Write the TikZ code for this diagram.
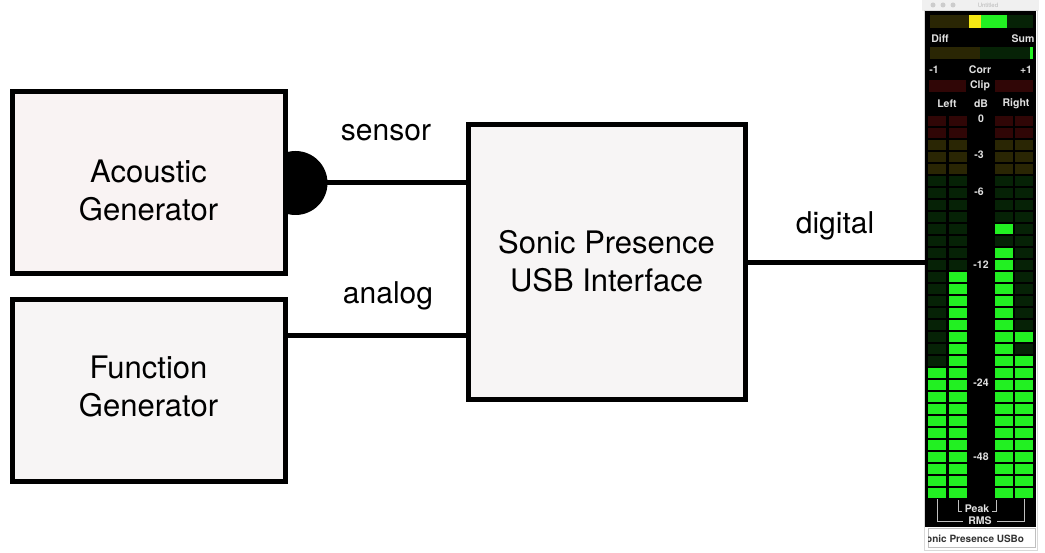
\documentclass[tikz,border=0pt]{standalone}
\usepackage{fontspec}
\setmainfont{TeX Gyre Heros}
\usetikzlibrary{backgrounds}

\definecolor{boxpink}{RGB}{249,243,243}
\definecolor{boxgray}{RGB}{247,245,245}
\definecolor{litgreen}{RGB}{34,240,34}
\definecolor{dimgreen}{RGB}{6,34,6}
\definecolor{dimred}{RGB}{48,6,6}
\definecolor{dimolive}{RGB}{42,38,4}
\definecolor{meteryellow}{RGB}{245,232,20}

\tikzset{
  block/.style={draw, line width=5pt, inner sep=0pt},
  blocktext/.style={align=center, inner sep=0pt, font=\fontsize{31}{38}\selectfont},
  wire/.style={line width=5pt},
  wirelabel/.style={anchor=base, font=\fontsize{30}{36}\selectfont},
  metertext/.style={text=white!88!black, inner sep=0pt, font=\bfseries\fontsize{10.5}{13}\selectfont},
  bracket/.style={draw=white!75!black, line width=1pt},
}

\begin{document}
\begin{tikzpicture}[x=1pt, y=-1pt]
    \useasboundingbox (0,0) rectangle (1045,553);

    % Acoustic generator
    \node[block, fill=boxpink, minimum width=273pt, minimum height=182pt] (acoustic) at (148.5,183) {};
    \node[blocktext] (acoustictext) at (148.5,190) {Acoustic\\Generator};

    % Function generator
    \node[block, fill=boxgray, minimum width=273pt, minimum height=181pt] (function) at (148.5,390.5) {};
    \node[blocktext] (functiontext) at (148.5,386) {Function\\Generator};

    % Sonic Presence interface
    \node[block, fill=boxgray, minimum width=277pt, minimum height=275pt] (sonic) at (606.5,262.5) {};
    \node[blocktext] (sonictext) at (606.5,261.5) {Sonic Presence\\USB Interface};

    % sensor (half hidden behind the box)
    \begin{pgfonlayer}{background}
        \fill ([xshift=8pt]acoustic.east) circle (32pt);
    \end{pgfonlayer}
    \draw[wire] (acoustic.east) -- (acoustic.east -| sonic.west);
    \node[wirelabel] (sensorlabel) at (386,141) {sensor};

    % analog
    \draw[wire] ([yshift=54.5pt]function.east) -- ([yshift=54.5pt]function.east -| sonic.west);
    \node[wirelabel] (analoglabel) at (388,304) {analog};

    % meter window
    \fill[gray!12] (922,0) rectangle (1039,11);
    \foreach \bx in {933,943,953}
        \fill[gray!40] (\bx,5) circle (2.5pt);
    \node[text=gray!55, inner sep=0pt, font=\fontsize{6}{7}\selectfont] (title) at (988,5) {Untitled};
    \draw[gray!30, line width=1pt] (924,11) rectangle (1037,550);
    \node[fill=black, inner sep=0pt, minimum width=111pt, minimum height=516pt] (meter) at (980.5,269) {};

    % digital
    \draw[wire] (sonic.east) -- (sonic.east -| meter.west);
    \node[wirelabel] (digitallabel) at (835,234) {digital};

    % Diff / Sum bar
    \fill[dimolive] (930,15) rectangle (969,28);
    \fill[meteryellow] (969,15) rectangle (981,28);
    \fill[litgreen] (981,15) rectangle (1007,28);
    \fill[dimgreen] (1007,15) rectangle (1033,28);
    \node[metertext] (diff) at (940,39) {Diff};
    \node[metertext] (sum) at (1023,39) {Sum};

    % correlation bar
    \fill[dimolive] (930,47) rectangle (980,59);
    \fill[dimgreen] (980,47) rectangle (1030,59);
    \fill[litgreen] (1030,47) rectangle (1033,59);
    \node[metertext] (corrlo) at (934,70) {-1};
    \node[metertext] (corr) at (980,70) {Corr};
    \node[metertext] (corrhi) at (1026,70) {+1};

    % clip
    \fill[dimred] (929,80) rectangle (966,92);
    \fill[dimred] (995,80) rectangle (1033,92);
    \node[metertext] (clip) at (980,86) {Clip};
    \node[metertext] (left) at (947,104) {Left};
    \node[metertext] (db) at (981,104) {dB};
    \node[metertext] (right) at (1016,104) {Right};

    % level cells
    \foreach \xa/\xb/\lit in {928/946/21, 949/967/13, 995/1013/11, 1015/1033/20}{
        \foreach \r in {0,...,31}{
            \ifnum\r<\lit
                \ifnum\r<2 \def\cellcol{dimred}\else\ifnum\r<5 \def\cellcol{dimolive}\else\def\cellcol{dimgreen}\fi\fi
            \else
                \def\cellcol{litgreen}
            \fi
            \fill[\cellcol] (\xa,{116+12*\r}) rectangle (\xb,{126+12*\r});
        }
    }
    \fill[litgreen] (995,{116+12*9}) rectangle (1013,{126+12*9});
    \fill[litgreen] (1015,{116+12*18}) rectangle (1033,{126+12*18});

    % dB scale
    \node[metertext] (db0) at (981,119) {0};
    \node[metertext] (db3) at (979,155) {-3};
    \node[metertext] (db6) at (979,192) {-6};
    \node[metertext] (db12) at (981,265) {-12};
    \node[metertext] (db24) at (981,383) {-24};
    \node[metertext] (db48) at (981,457) {-48};

    % Peak / RMS brackets
    \draw[bracket] (958,500) -- (958,511) -- (962,511);
    \draw[bracket] (992,511) -- (996,511) -- (996,500);
    \node[metertext] (peak) at (977,509) {Peak};
    \draw[bracket] (937,499) -- (937,521) -- (963,521);
    \draw[bracket] (997,521) -- (1024,521) -- (1024,499);
    \node[metertext] (rms) at (980,521) {RMS};

    % device name
    \node[draw=gray!50, fill=white, inner sep=0pt, minimum width=107pt, minimum height=19pt] (tag) at (981.5,538) {};
    \begin{scope}
        \clip (928,529) rectangle (1035,547);
        \node[anchor=west, inner sep=0pt, text=black!80, font=\bfseries\fontsize{10}{12}\selectfont] (tagtext) at (926,538.5) {onic Presence USBo};
    \end{scope}

\end{tikzpicture}
\end{document}
